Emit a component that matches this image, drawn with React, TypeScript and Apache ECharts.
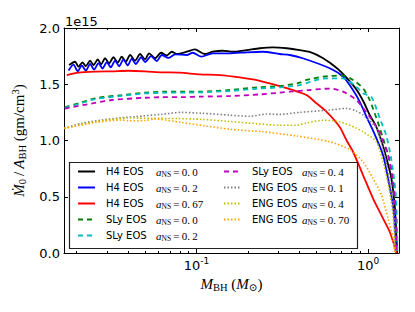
import React, { useEffect, useRef } from "react";
import * as echarts from "echarts";

type Pt = [number, number];

// axis extents (M_BH in solar masses, accretion rate in units of 1e15)
const X_RANGE: [number, number] = [0.0169, 1.516];
const Y_RANGE: [number, number] = [0, 2];
const Y_STEP = 0.5;
const X_MAJOR = [0.1, 1];
const X_MINOR = [0.02, 0.03, 0.04, 0.05, 0.06, 0.07, 0.08, 0.09, 0.2, 0.3, 0.4, 0.5, 0.6, 0.7, 0.8, 0.9];
const SCALE_TEXT = "1e15";

const H4_A00: Pt[] = [
  [0.0181, 1.671], [0.01961, 1.7], [0.02053, 1.656], [0.02166, 1.695], [0.02264, 1.662], [0.02399, 1.709],
  [0.02511, 1.671], [0.0266, 1.722], [0.0278, 1.677], [0.02934, 1.731], [0.03095, 1.686], [0.03283, 1.74],
  [0.03478, 1.692], [0.0367, 1.745], [0.03873, 1.7], [0.04103, 1.76], [0.04387, 1.709], [0.04692, 1.769],
  [0.05017, 1.722], [0.05294, 1.775], [0.05738, 1.731], [0.06219, 1.78], [0.06712, 1.756], [0.07179, 1.789],
  [0.07677, 1.769], [0.0878, 1.789], [0.09774, 1.81], [0.1118, 1.769], [0.1245, 1.789], [0.1423, 1.798],
  [0.1627, 1.789], [0.1964, 1.804], [0.2338, 1.82], [0.2783, 1.828], [0.3359, 1.82], [0.4, 1.804],
  [0.4574, 1.787], [0.5445, 1.733], [0.6571, 1.644], [0.7514, 1.556], [0.8592, 1.449], [0.9439, 1.342],
  [1.023, 1.227], [1.119, 1.12], [1.218, 0.96], [1.303, 0.8], [1.369, 0.664], [1.431, 0.427], [1.464, 0.16], [1.48, 0],
];
const H4_A02: Pt[] = [
  [0.01796, 1.622], [0.0192, 1.674], [0.02034, 1.615], [0.02146, 1.668], [0.02264, 1.621], [0.02399, 1.68],
  [0.02531, 1.63], [0.02685, 1.688], [0.02833, 1.64], [0.03002, 1.697], [0.03166, 1.65], [0.03354, 1.71],
  [0.0354, 1.66], [0.03755, 1.72], [0.03978, 1.668], [0.04198, 1.728], [0.04429, 1.68], [0.04756, 1.74],
  [0.05017, 1.698], [0.05438, 1.75], [0.0587, 1.706], [0.06278, 1.76], [0.06867, 1.734], [0.07504, 1.765],
  [0.0878, 1.76], [0.09515, 1.78], [0.1069, 1.745], [0.1245, 1.775], [0.1563, 1.775], [0.1964, 1.784],
  [0.2434, 1.789], [0.3058, 1.769], [0.3497, 1.76], [0.4165, 1.731], [0.5982, 1.642], [0.715, 1.567],
  [0.8176, 1.449], [0.8946, 1.345], [0.9788, 1.212], [1.069, 1.09], [1.223, 0.871], [1.308, 0.664],
  [1.398, 0.427], [1.445, 0.16], [1.455, 0],
];
const H4_A067: Pt[] = [
  [0.01755, 1.582], [0.02053, 1.603], [0.02565, 1.612], [0.03209, 1.615], [0.04015, 1.62], [0.05017, 1.615],
  [0.06278, 1.606], [0.07992, 1.603], [0.1045, 1.588], [0.1367, 1.582], [0.1788, 1.561], [0.2338, 1.531],
  [0.3058, 1.484], [0.3655, 1.449], [0.4375, 1.404], [0.5003, 1.331], [0.5723, 1.256], [0.6841, 1.12],
  [0.7483, 1.004], [0.8176, 0.9], [0.9352, 0.693], [1.069, 0.486], [1.223, 0.308], [1.338, 0.189],
  [1.431, 0.056], [1.464, 0],
];
const SLY_A00: Pt[] = [
  [0.01708, 1.295], [0.02146, 1.34], [0.02565, 1.375], [0.0367, 1.404], [0.05017, 1.425], [0.06561, 1.434],
  [0.08582, 1.434], [0.1045, 1.434], [0.1563, 1.449], [0.2237, 1.473], [0.3058, 1.484], [0.4, 1.514],
  [0.4375, 1.538], [0.5467, 1.567], [0.715, 1.578], [0.8176, 1.538], [0.9352, 1.464], [1.023, 1.36],
  [1.119, 1.2], [1.223, 1.022], [1.326, 0.844], [1.398, 0.649], [1.445, 0.427], [1.464, 0.204], [1.47, 0],
];
const SLY_A02: Pt[] = [
  [0.01708, 1.29], [0.02146, 1.333], [0.02565, 1.368], [0.0367, 1.397], [0.05017, 1.418], [0.06561, 1.425],
  [0.08582, 1.426], [0.1045, 1.428], [0.1563, 1.44], [0.2237, 1.46], [0.3058, 1.472], [0.4, 1.492],
  [0.4375, 1.51], [0.5467, 1.55], [0.715, 1.553], [0.8558, 1.478], [0.9352, 1.42], [1.047, 1.387],
  [1.17, 1.2], [1.28, 1.04], [1.369, 0.827], [1.445, 0.56], [1.476, 0.276], [1.484, 0],
];
const SLY_A04: Pt[] = [
  [0.01708, 1.283], [0.02565, 1.335], [0.03209, 1.36], [0.05017, 1.38], [0.06278, 1.385], [0.08582, 1.386],
  [0.1045, 1.39], [0.1563, 1.395], [0.2338, 1.41], [0.3058, 1.425], [0.3497, 1.434], [0.4574, 1.449],
  [0.5982, 1.462], [0.715, 1.434], [0.8558, 1.36], [1.023, 1.21], [1.119, 1.12], [1.17, 1.07],
  [1.308, 0.871], [1.398, 0.634], [1.445, 0.367], [1.464, 0],
];
const ENG_A01: Pt[] = [
  [0.01697, 1.108], [0.02146, 1.153], [0.02807, 1.182], [0.0367, 1.203], [0.04387, 1.212], [0.06278, 1.233],
  [0.08208, 1.25], [0.1074, 1.242], [0.1563, 1.225], [0.2045, 1.215], [0.2558, 1.235], [0.3058, 1.232],
  [0.4, 1.25], [0.5982, 1.271], [0.7483, 1.286], [0.8558, 1.262], [0.9352, 1.227], [1.119, 1.108],
  [1.251, 0.871], [1.338, 0.634], [1.412, 0.367], [1.445, 0],
];
const ENG_A04: Pt[] = [
  [0.01697, 1.108], [0.02565, 1.167], [0.04015, 1.2], [0.0549, 1.197], [0.0778, 1.195], [0.1074, 1.188],
  [0.1537, 1.17], [0.2237, 1.15], [0.3058, 1.135], [0.3827, 1.135], [0.4375, 1.155], [0.5467, 1.18],
  [0.6841, 1.167], [0.8558, 1.11], [0.9352, 1.078], [1.119, 0.989], [1.223, 0.81], [1.326, 0.575],
  [1.398, 0.338], [1.445, 0],
];
const ENG_A070: Pt[] = [
  [0.01697, 1.108], [0.02565, 1.16], [0.0367, 1.182], [0.04015, 1.175], [0.05017, 1.178], [0.05738, 1.19],
  [0.08208, 1.16], [0.1122, 1.13], [0.1563, 1.1], [0.2444, 1.078], [0.3827, 1.04], [0.5982, 0.989],
  [0.7823, 0.92], [0.9352, 0.81], [1.069, 0.664], [1.197, 0.516], [1.308, 0.308], [1.398, 0.13], [1.431, 0],
];

const EOS_NAMES = ["H4", "H4", "H4", "SLy", "SLy", "SLy", "ENG", "ENG", "ENG"];
const SPINS = ["0.0", "0.2", "0.67", "0.0", "0.2", "0.4", "0.1", "0.4", "0.70"];
const SERIES_DATA = [H4_A00, H4_A02, H4_A067, SLY_A00, SLY_A02, SLY_A04, ENG_A01, ENG_A04, ENG_A070];
const COLORS = ["#000000", "#0000ff", "#ff0000", "#008000", "#00bfbf", "#bf00bf", "#808080", "#bfbf00", "#ffa500"];
const STYLES = ["solid", "solid", "solid", "dash", "dash", "dash", "dot", "dot", "dot"];

const SERIF = "'Liberation Serif', 'DejaVu Serif', serif";
const SANS = "'DejaVu Sans', sans-serif";

const names = EOS_NAMES.map((e, i) => `${e} EOS a=${SPINS[i]}`);

function legendFormatter(name: string) {
  const i = names.indexOf(name);
  const spin = SPINS[i].replace(".", ".\u2009");
  return `{t|${EOS_NAMES[i]} EOS}{a|a}{s|NS}{e|\u2009=\u2009${spin}}`;
}

const legendText = {
  color: "#000",
  padding: [0, 0, 0, 6],
  rich: {
    t: { fontFamily: SANS, fontSize: 10, lineHeight: 13, width: 50, color: "#000" },
    a: { fontFamily: SERIF, fontStyle: "italic", fontSize: 11, lineHeight: 13, color: "#000" },
    s: { fontFamily: SERIF, fontSize: 7.5, lineHeight: 7, verticalAlign: "bottom", color: "#000" },
    e: { fontFamily: SERIF, fontSize: 11, lineHeight: 13, color: "#000" },
  },
};

export default function App() {
  const ref = useRef<HTMLDivElement>(null);
  useEffect(() => {
    if (!ref.current) return;
    const chart = echarts.init(ref.current, undefined, { renderer: "svg" });
    const lg = (v: number) => Math.log10(v);
    const axisLineStyle = { color: "#000", width: 1 };
    const xBase = {
      type: "value",
      min: lg(X_RANGE[0]),
      max: lg(X_RANGE[1]),
      splitLine: { show: false },
      axisLabel: { show: false },
      axisLine: { show: false, onZero: false },
      axisTick: { show: false },
    };
    const majorTick = { show: true, inside: true, length: 4, customValues: X_MAJOR.map(lg), lineStyle: { color: "#000", width: 1 } };
    const minorTick = { show: true, inside: true, length: 2, customValues: X_MINOR.map(lg), lineStyle: { color: "#000", width: 1 } };

    const series = SERIES_DATA.map((d, i) => {
      const st = STYLES[i];
      return {
        type: "line",
        name: names[i],
        data: d.map(([m, v]) => [lg(m), v]),
        xAxisIndex: 0,
        yAxisIndex: 0,
        showSymbol: false,
        symbol: "none",
        smooth: 0.25,
        color: COLORS[i],
        itemStyle: { color: COLORS[i] },
        lineStyle: {
          color: COLORS[i],
          width: st === "dot" ? 1.6 : 1.8,
          type: st === "solid" ? "solid" : st === "dash" ? [5, 4] : [1.5, 2],
          cap: "butt",
        },
        emphasis: { disabled: true },
      };
    });

    const legendBase = {
      orient: "vertical",
      top: 166,
      padding: 0,
      itemGap: 4,
      itemWidth: 17,
      itemHeight: 10,
      selectedMode: false,
      formatter: legendFormatter,
      textStyle: legendText,
      itemStyle: { opacity: 0 },
      z: 10,
    };

    const option: any = {
      animation: false,
      backgroundColor: "#ffffff",
      grid: { left: 64, right: 16, top: 28, bottom: 59, containLabel: false },
      xAxis: [
        {
          ...xBase,
          position: "bottom",
          axisLine: { show: true, onZero: false, lineStyle: axisLineStyle },
          axisTick: majorTick,
          axisLabel: {
            show: true,
            customValues: X_MAJOR.map(lg),
            margin: 3,
            formatter: (v: number) => `{b|10}{s|${Math.round(v)}}`,
            rich: {
              b: { fontFamily: SANS, fontSize: 13, lineHeight: 18, color: "#000" },
              s: { fontFamily: SANS, fontSize: 9, lineHeight: 9, verticalAlign: "top", color: "#000" },
            },
          },
          name: "{i|M}{s|BH}{r| (}{i|M}{s|\u2299}{r|)}",
          nameLocation: "middle",
          nameGap: 22,
          nameTextStyle: {
            rich: {
              i: { fontFamily: SERIF, fontStyle: "italic", fontSize: 15, lineHeight: 18, color: "#000" },
              s: { fontFamily: SERIF, fontSize: 10.5, lineHeight: 10, verticalAlign: "bottom", color: "#000" },
              r: { fontFamily: SERIF, fontSize: 15, lineHeight: 18, color: "#000" },
            },
          },
        },
        { ...xBase, position: "bottom", axisTick: minorTick },
        { ...xBase, position: "top", axisLine: { show: true, onZero: false, lineStyle: axisLineStyle }, axisTick: majorTick },
        { ...xBase, position: "top", axisTick: minorTick },
      ],
      yAxis: [
        {
          type: "value",
          position: "left",
          min: Y_RANGE[0],
          max: Y_RANGE[1],
          interval: Y_STEP,
          splitLine: { show: false },
          axisLine: { show: true, onZero: false, lineStyle: axisLineStyle },
          axisTick: { show: true, inside: true, length: 4, lineStyle: { color: "#000" } },
          axisLabel: {
            formatter: (v: number) => v.toFixed(1),
            fontFamily: SANS,
            fontSize: 13,
            color: "#000",
            margin: 4,
          },
          name: "{i|\u1E40}{s|0}{r|\u2009/\u2009}{i|A}{s|BH}{r| (gm/cm}{p|3}{r|)}",
          nameLocation: "middle",
          nameRotate: 90,
          nameGap: 28,
          nameTextStyle: {
            rich: {
              i: { fontFamily: SERIF, fontStyle: "italic", fontSize: 15, lineHeight: 18, color: "#000" },
              s: { fontFamily: SERIF, fontSize: 10.5, lineHeight: 10, verticalAlign: "bottom", color: "#000" },
              p: { fontFamily: SERIF, fontSize: 10.5, lineHeight: 10, verticalAlign: "top", color: "#000" },
              r: { fontFamily: SERIF, fontSize: 15, lineHeight: 18, color: "#000" },
            },
          },
        },
        {
          type: "value",
          position: "right",
          min: Y_RANGE[0],
          max: Y_RANGE[1],
          interval: Y_STEP,
          splitLine: { show: false },
          axisLine: { show: true, onZero: false, lineStyle: axisLineStyle },
          axisTick: { show: true, inside: true, length: 4, lineStyle: { color: "#000" } },
          axisLabel: { show: false },
        },
      ],
      legend: [
        { ...legendBase, left: 77, data: names.slice(0, 5) },
        { ...legendBase, left: 223, data: names.slice(5) },
      ],
      graphic: [
        {
          type: "rect",
          z: 5,
          shape: { x: 69.5, y: 162.5, width: 288, height: 86 },
          style: { fill: "#ffffff", stroke: "#222", lineWidth: 1.2 },
        },
        {
          type: "text",
          x: 65,
          y: 21.5,
          style: { text: SCALE_TEXT, font: `13px ${SANS}`, fill: "#000", verticalAlign: "middle" },
        },
      ],
      series,
    };
    chart.setOption(option);
    return () => chart.dispose();
  }, []);
  return (
    <div
      ref={ref}
      style={{ position: "fixed", left: 0, top: 0, width: 415, height: 312, background: "#fff" }}
    />
  );
}
